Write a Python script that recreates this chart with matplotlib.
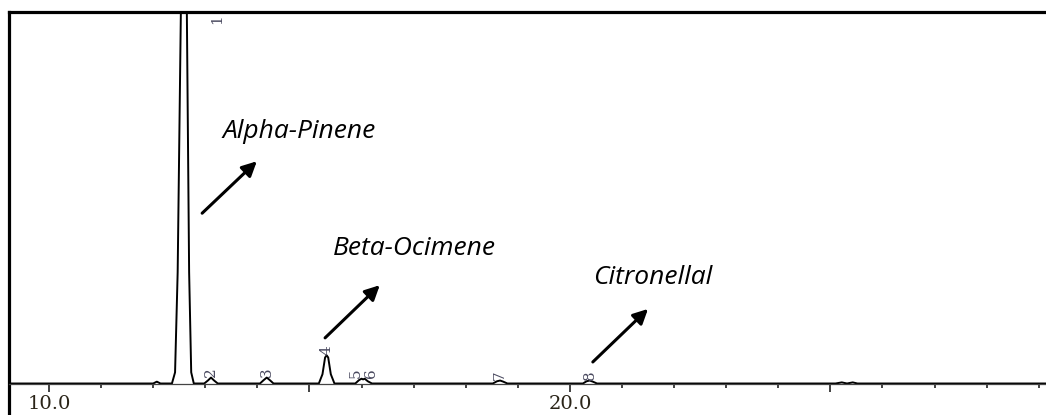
import matplotlib
matplotlib.use('Agg')
import matplotlib.pyplot as plt
from matplotlib.ticker import FixedLocator, FixedFormatter, MultipleLocator

# chromatogram trace (retention time in min, relative intensity)
rt = [9.23, 12.00, 12.07, 12.14, 12.36, 12.42, 12.47, 12.54, 12.60, 12.64, 12.69, 12.73, 12.78,
      12.98, 13.05, 13.11, 13.17, 13.24,
      14.05, 14.12, 14.18, 14.24, 14.31,
      15.18, 15.25, 15.30, 15.33, 15.36, 15.41, 15.48,
      15.88, 15.95, 16.00, 16.03, 16.06, 16.12, 16.20,
      18.52, 18.60, 18.66, 18.72, 18.80,
      20.25, 20.32, 20.38, 20.44, 20.52,
      25.10, 25.22, 25.32, 25.43, 25.52, 29.20]
intensity = [0, 0, 0.5, 0, 0, 3, 30, 110, 140, 110, 30, 3, 0,
             0, 0.8, 1.6, 0.8, 0,
             0, 0.9, 1.6, 0.9, 0,
             0, 2.5, 7.0, 7.6, 7.0, 2.5, 0,
             0, 0.9, 1.3, 1.1, 1.3, 0.6, 0,
             0, 0.6, 0.8, 0.5, 0,
             0, 0.6, 0.8, 0.5, 0,
             0, 0.3, 0, 0.3, 0, 0]

# peak numbers printed by the software
peak_ids = ['1', '2', '3', '4', '5', '6', '7', '8']
peak_rt = [12.60, 13.11, 14.18, 15.33, 15.88, 16.18, 18.66, 20.38]
peak_height = [140, 1.6, 1.6, 7.6, 1.3, 1.3, 0.8, 0.8]

compounds = ['Alpha-Pinene', 'Beta-Ocimene', 'Citronellal']

ymax = 100.0
fig = plt.figure(figsize=(10.46, 4.15), dpi=100)
ax = fig.add_axes([9 / 1046, 0, 1 - 9 / 1046, 1 - 12.5 / 415])
ax.set_xlim(9.232, 29.14)
ax.set_ylim(-(415 - 383.5) / 3.71, ymax)

ax.plot(rt, intensity, color='black', lw=1.4, solid_joinstyle='round')

# peak labels, rotated like the instrument print-out
for pid, x, h in zip(peak_ids, peak_rt, peak_height):
    if h > ymax:
        ax.text(x + 0.62, ymax - 0.5, pid, rotation=90, ha='center', va='top',
                fontsize=11, color='#4a4a60', family='DejaVu Serif')
    else:
        ax.text(x, h + 0.2, pid, rotation=90, ha='center', va='bottom',
                fontsize=11, color='#4a4a60', family='DejaVu Serif')

# compound annotations with arrows
txt_pos = [(13.34, 67.8), (15.45, 36.5), (20.44, 28.7)]
arrow_tail = [(12.94, 45.9), (15.30, 12.3), (20.44, 5.8)]
arrow_head = [(13.99, 59.9), (16.35, 26.5), (21.50, 20.1)]
for name, tp, tail, head in zip(compounds, txt_pos, arrow_tail, arrow_head):
    ax.text(tp[0], tp[1], name, ha='left', va='center', fontsize=19,
            style='italic', family='Open Sans', color='black')
    ax.annotate('', xy=head, xytext=tail,
                arrowprops=dict(arrowstyle='-|>', color='black', lw=2.2,
                                mutation_scale=22, shrinkA=0, shrinkB=0))

# frame: heavy left and top, baseline axis with ticks
ax.spines['right'].set_visible(False)
ax.spines['left'].set_linewidth(2.3)
ax.spines['top'].set_linewidth(2.3)
ax.spines['bottom'].set_position(('data', 0))
ax.spines['bottom'].set_color('#444444')
ax.spines['bottom'].set_linewidth(0.9)

ax.xaxis.set_major_locator(FixedLocator([10, 15, 20, 25]))
ax.xaxis.set_major_formatter(FixedFormatter(['10.0', '', '20.0', '']))
ax.xaxis.set_minor_locator(MultipleLocator(1))
ax.tick_params(axis='x', which='major', direction='out', length=6, width=1.3,
               color='#333333', pad=2, labelsize=14, labelcolor='#2a2418')
ax.tick_params(axis='x', which='minor', direction='out', length=3, width=1.3,
               color='#333333')
for lbl in ax.get_xticklabels():
    lbl.set_family('DejaVu Serif')
ax.set_yticks([])

fig.savefig('out.png', dpi=100)
